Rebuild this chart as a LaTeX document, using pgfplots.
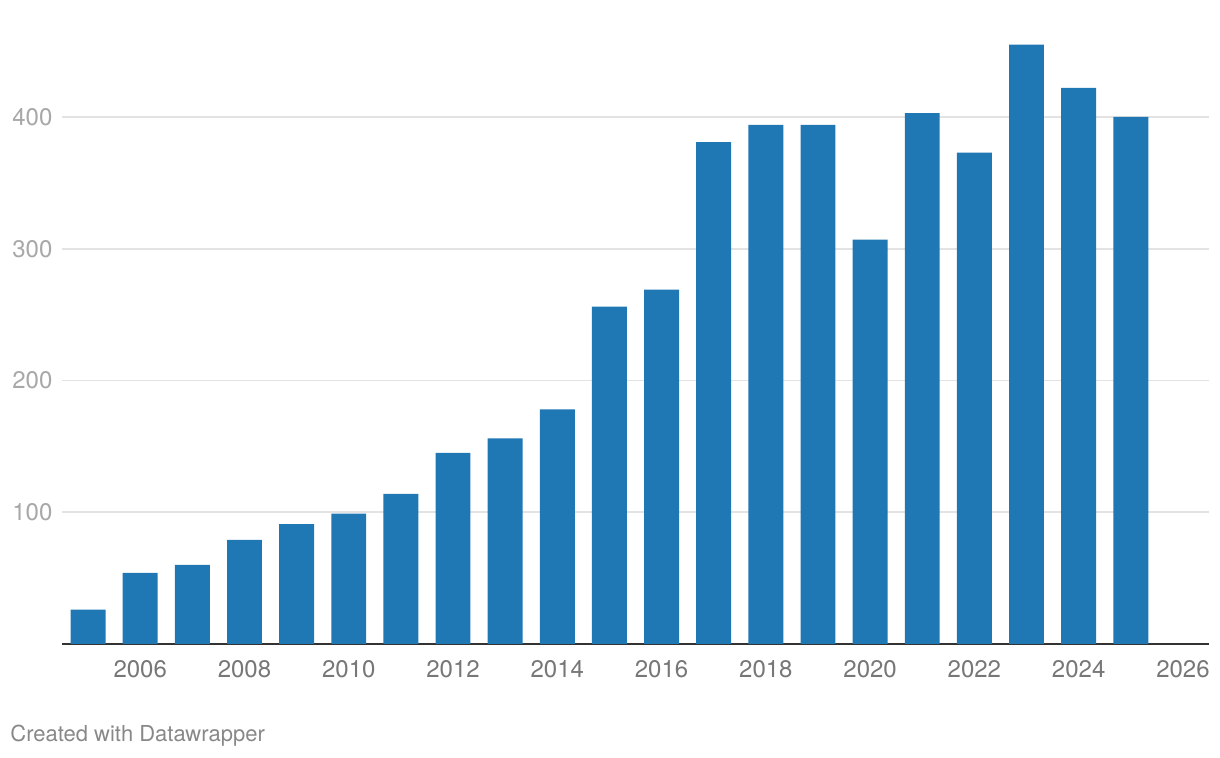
\documentclass[border=0pt]{standalone}
\usepackage{fontspec}
\setmainfont{TeX Gyre Heros}
\usepackage{pgfplots}
\pgfplotsset{compat=1.18}
\definecolor{barblue}{HTML}{1F77B4}
\definecolor{gridgray}{HTML}{E3E3E3}
\definecolor{ylab}{HTML}{A8A8A8}
\definecolor{xlab}{HTML}{777777}
\definecolor{credit}{HTML}{888888}
\definecolor{axisdark}{HTML}{333333}
\begin{document}
\begin{tikzpicture}
\begin{axis}[
  at={(0,0)}, anchor=south west,
  scale only axis,
  width=573.5pt, height=322pt,
  xmin=2004.5, xmax=2026.5,
  ymin=0, ymax=488.8,
  axis x line*=bottom,
  axis y line*=left,
  y axis line style={draw=none},
  x axis line style={draw=axisdark, line width=1pt, -},
  xtick={2006,2008,...,2026},
  x tick label style={/pgf/number format/1000 sep={}, anchor=north, inner sep=0pt, yshift=-8pt, font=\fontsize{12}{14}\selectfont, text=xlab},
  ytick={100,200,300,400},
  ymajorgrids,
  grid style={draw=gridgray, line width=0.8pt},
  y tick label style={anchor=west, inner sep=0pt, xshift=-25pt, font=\fontsize{12}{14}\selectfont, text=ylab},
  major tick length=0pt,
  /pgf/number format/assume math mode=true,
  clip=false,
]
\addplot[ybar, bar width=0.67, fill=barblue, draw=none] coordinates {
 (2005,26) (2006,54) (2007,60) (2008,79) (2009,91) (2010,99) (2011,114)
 (2012,145) (2013,156) (2014,178) (2015,256) (2016,269) (2017,381)
 (2018,394) (2019,394) (2020,307) (2021,403) (2022,373) (2023,455)
 (2024,422) (2025,400)
};
\end{axis}
\node[anchor=base west, inner sep=0pt, text=credit, font=\fontsize{11}{13}\selectfont] at (-26pt,-49pt) {Created with Datawrapper};
\useasboundingbox (-31pt,-57pt) rectangle (579pt,322pt);
\end{tikzpicture}
\end{document}
